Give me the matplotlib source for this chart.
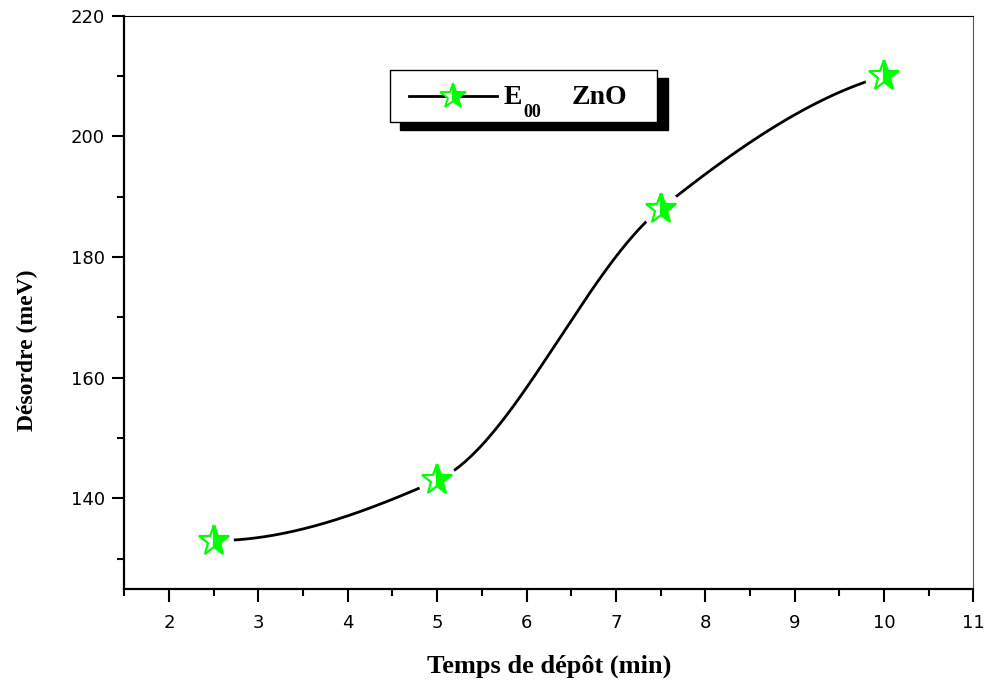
import numpy as np
import matplotlib.pyplot as plt
from matplotlib.patches import Rectangle
from matplotlib.lines import Line2D

# data
temps = np.array([2.5, 5.0, 7.5, 10.0])        # Temps de dépôt (min)
desordre = np.array([133.0, 143.0, 188.0, 210.0])  # E00 (meV)

xticks = [2, 3, 4, 5, 6, 7, 8, 9, 10, 11]
yticks = [140, 160, 180, 200, 220]


def pchip(x, y, xs):
    # monotone cubic, close to the smoothed curve of the original plot
    h = np.diff(x)
    d = np.diff(y) / h
    n = len(x)
    m = np.zeros(n)
    for k in range(1, n - 1):
        if d[k - 1] * d[k] > 0:
            w1 = 2 * h[k] + h[k - 1]
            w2 = h[k] + 2 * h[k - 1]
            m[k] = (w1 + w2) / (w1 / d[k - 1] + w2 / d[k])

    def end(h0, h1, d0, d1):
        s = ((2 * h0 + h1) * d0 - h0 * d1) / (h0 + h1)
        if np.sign(s) != np.sign(d0):
            return 0.0
        if np.sign(d0) != np.sign(d1) and abs(s) > abs(3 * d0):
            return 3 * d0
        return s

    m[0] = end(h[0], h[1], d[0], d[1])
    m[-1] = end(h[-1], h[-2], d[-1], d[-2])
    idx = np.clip(np.searchsorted(x, xs) - 1, 0, n - 2)
    t = (xs - x[idx]) / h[idx]
    h00 = 2 * t**3 - 3 * t**2 + 1
    h10 = t**3 - 2 * t**2 + t
    h01 = -2 * t**3 + 3 * t**2
    h11 = t**3 - t**2
    return (h00 * y[idx] + h10 * h[idx] * m[idx]
            + h01 * y[idx + 1] + h11 * h[idx] * m[idx + 1])


fig = plt.figure(figsize=(9.88, 6.88), dpi=100)
ax = fig.add_axes([0.126, 0.144, 0.859, 0.833])

xs = np.linspace(temps[0], temps[-1], 400)
ax.plot(xs, pchip(temps, desordre, xs), color='black', lw=2.0, zorder=2)
# white discs make the gaps around the symbols, as in Origin
ax.plot(temps, desordre, 'o', ms=28, color='white', mec='none', zorder=3)
ax.plot(temps, desordre, '*', ms=23, fillstyle='right', color='#00ff00',
        markerfacecoloralt='white', mec='#00ff00', mew=1.6, zorder=4)

ax.set_xlim(1.5, 11)
ax.set_ylim(125, 220)
ax.set_xticks(xticks)
ax.set_yticks(yticks)
ax.set_xticks(np.arange(1.5, 11.01, 0.5), minor=True)
ax.set_yticks(np.arange(130, 220, 10), minor=True)

for s in ['left', 'bottom']:
    ax.spines[s].set_linewidth(1.6)
for s in ['top', 'right']:
    ax.spines[s].set_linewidth(0.8)
ax.spines['right'].set_color('#555555')

ax.tick_params(which='both', direction='out', top=False, right=False, width=1.5)
ax.tick_params(which='major', length=9, labelsize=13)
ax.tick_params(axis='x', which='major', pad=9)
ax.tick_params(axis='y', which='major', pad=5)
ax.tick_params(which='minor', length=5)

ax.set_xlabel('Temps de dépôt (min)', fontfamily='Liberation Serif',
              fontweight='bold', fontsize=19, labelpad=16)
fig.text(0.028, 1 - 350 / 688, 'Désordre (meV)', rotation=90,
         fontfamily='Liberation Serif', fontweight='bold', fontsize=17,
         ha='center', va='center')

# legend box with solid black shadow
tr = ax.transAxes
ax.add_patch(Rectangle((0.325, 0.800), 0.315, 0.091, transform=tr,
                       facecolor='black', edgecolor='black', zorder=5))
ax.add_patch(Rectangle((0.313, 0.815), 0.315, 0.091, transform=tr,
                       facecolor='white', edgecolor='black', lw=1.0, zorder=6))
ax.add_line(Line2D([0.335, 0.439], [0.860, 0.860], transform=tr,
                   color='black', lw=2.0, zorder=7))
ax.plot([0.387], [0.860], '*', ms=19, fillstyle='right', color='#00ff00',
        markerfacecoloralt='white', mec='#00ff00', mew=1.4,
        transform=tr, zorder=8)
ax.text(0.447, 0.858, 'E', transform=tr, fontfamily='Liberation Serif',
        fontweight='bold', fontsize=20, va='center', zorder=8)
ax.text(0.470, 0.831, '00', transform=tr, fontfamily='Liberation Serif',
        fontweight='bold', fontsize=13, va='center', zorder=8)
ax.text(0.527, 0.858, 'ZnO', transform=tr, fontfamily='Liberation Serif',
        fontweight='bold', fontsize=20, va='center', zorder=8)

fig.savefig('out.png', dpi=100)
